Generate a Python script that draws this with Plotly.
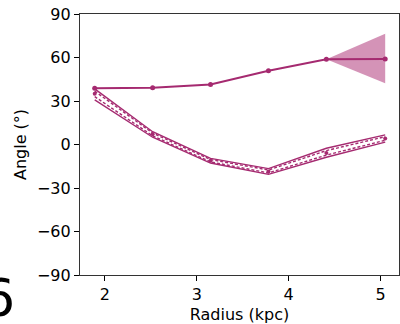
import plotly.graph_objects as go

radius = [1.89, 2.52, 3.15, 3.78, 4.41, 5.05]
upper_angle = [38.8, 39.1, 41.4, 50.8, 58.8, 59.0]
band_r = [4.41, 5.05]
band_hi = [58.8, 76.3]
band_lo = [58.8, 42.3]

lower_mid = [35.0, 7.0, -11.2, -18.6, -5.8, 4.2]
lower_hi = [38.4, 8.8, -9.6, -16.6, -2.6, 6.6]
lower_lo = [30.8, 5.0, -12.8, -20.6, -8.8, 1.6]
lower_in1 = [36.8, 7.9, -10.4, -17.6, -4.2, 5.4]
lower_in2 = [33.0, 6.0, -12.0, -19.6, -7.3, 2.9]

xticks = [2, 3, 4, 5]
yticks = [-90, -60, -30, 0, 30, 60, 90]

LINE = "#A52A70"
FILL = "rgba(170,40,112,0.5)"
FONT = "DejaVu Sans"

fig = go.Figure()
fig.add_trace(go.Scatter(x=band_r, y=band_hi, mode="lines", line=dict(width=0),
                         showlegend=False, hoverinfo="skip"))
fig.add_trace(go.Scatter(x=band_r, y=band_lo, mode="lines", line=dict(width=0),
                         fill="tonexty", fillcolor=FILL, showlegend=False, hoverinfo="skip"))
fig.add_trace(go.Scatter(x=radius, y=upper_angle, mode="lines+markers",
                         line=dict(color=LINE, width=2), marker=dict(color=LINE, size=5),
                         showlegend=False))
for ys in (lower_hi, lower_lo):
    fig.add_trace(go.Scatter(x=radius, y=ys, mode="lines",
                             line=dict(color=LINE, width=1.4), showlegend=False))
for ys in (lower_in1, lower_in2):
    fig.add_trace(go.Scatter(x=radius, y=ys, mode="lines",
                             line=dict(color=LINE, width=1.4, dash="3px,2px"), showlegend=False))
fig.add_trace(go.Scatter(x=radius, y=lower_mid, mode="markers",
                         marker=dict(color=LINE, size=4), showlegend=False))

fig.update_layout(
    width=400, height=324,
    margin=dict(l=80, r=1, t=14, b=49),
    plot_bgcolor="white", paper_bgcolor="white",
    font=dict(family=FONT, size=16, color="black"),
    showlegend=False,
)
fig.update_xaxes(range=[1.73, 5.2], tickvals=xticks, ticks="outside", ticklen=5,
                 tickcolor="black", showline=True, linecolor="#333", linewidth=1.2,
                 mirror=True, showgrid=False, zeroline=False,
                 title=dict(text="Radius (kpc)", standoff=6, font=dict(size=16)),
                 tickfont=dict(size=16))
fig.update_yaxes(range=[-90, 90], tickvals=yticks,
                 ticktext=[("\u2212" + str(-v)) if v < 0 else str(v) for v in yticks],
                 ticks="outside", ticklen=5,
                 tickcolor="black", showline=True, linecolor="#333", linewidth=1.2,
                 mirror=True, showgrid=False, zeroline=False,
                 title=dict(text="Angle (°)", standoff=6, font=dict(size=16)),
                 tickfont=dict(size=16))
fig.add_annotation(text="6", xref="paper", yref="paper", x=-80/319, y=-49/261,
                   xanchor="center", yanchor="bottom", xshift=-2, yshift=-6, showarrow=False,
                   font=dict(family=FONT, size=52, color="black"))
fig.write_html("out.html")
